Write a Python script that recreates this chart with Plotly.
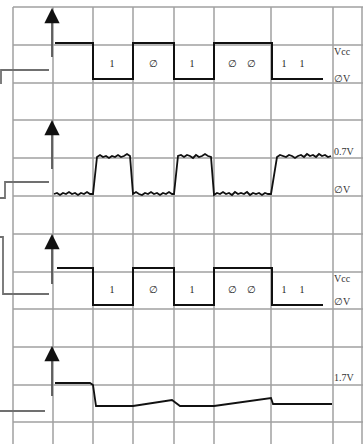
import plotly.graph_objects as go

# ---- grid (drawing units = pixels of the sheet) ----
grid_x = [13, 53, 93, 133, 174, 214, 271, 333, 362]
grid_y = [7, 45, 83, 120, 158, 196, 234, 272, 309, 347, 385, 422]
grid_top, grid_bottom, grid_left, grid_right = 7, 444, 13, 363

# ---- signal 1 & 3 : digital bit stream ----
edges = [93, 133, 174, 214, 272]
bit_start1, bit_end = 55, 323
high1, low1 = 43, 79
bit_start3 = 57
high3, low3 = 268, 305
levels_seq = ["H", "L", "H", "L", "H", "L"]

# bit labels
bit_labels = ["1", "∅", "1", "∅", "∅", "1", "1"]
bit_label_x = [112, 153, 192, 232, 251, 284, 302]
bit_label_y1 = 64
bit_label_y3 = 290

# ---- signal 2 : noisy 0.7 V ----
sig2_x = [54, 57, 60, 63, 66, 69, 72, 75, 78, 81, 84, 87, 90, 93,
          97, 100, 103, 106, 109, 112, 115, 118, 121, 124, 127, 130,
          133, 136, 139, 142, 145, 148, 151, 154, 157, 160, 163, 166, 169, 172, 174,
          178, 181, 184, 187, 190, 193, 196, 199, 202, 205, 208, 211,
          214, 217, 220, 223, 226, 229, 232, 235, 238, 241, 244, 247, 250, 253, 256, 259, 262, 265, 268, 271,
          277, 280, 283, 286, 289, 292, 295, 298, 301, 304, 307, 310, 313, 316, 319, 322, 325, 328, 331]
sig2_y = [194, 193, 195, 193, 194, 192, 194, 193, 195, 193, 194, 192, 194, 194,
          157, 155, 157, 156, 158, 156, 157, 155, 157, 156, 154, 156,
          194, 192, 194, 195, 193, 194, 192, 194, 193, 195, 193, 194, 192, 194, 194,
          156, 155, 157, 155, 156, 158, 155, 157, 156, 154, 156, 157,
          195, 193, 194, 192, 194, 193, 195, 192, 194, 193, 194, 192, 195, 193, 194, 193, 195, 193, 194, 194,
          157, 155, 156, 157, 155, 156, 158, 156, 155, 157, 154, 156, 155, 157, 154, 156, 155, 157, 156]

# ---- signal 4 : 1.7 V analog ----
sig4_x = [55, 90, 93, 96, 133, 172, 180, 214, 271, 273, 332]
sig4_y = [383, 383, 385, 406, 406, 400, 406, 406, 398, 404, 404]

# ---- small input steps on the left ----
steps = [
    ([1, 1, 49], [84, 70, 70]),
    ([0, 5, 5, 49], [198, 198, 182, 182]),
    ([0, 3, 3, 49], [237, 237, 294, 294]),
    ([0, 45], [411, 411]),
]

# ---- axis arrows (tip y, tail y) ----
arrow_x = 52
arrow_tip = [8, 120, 234, 346]
arrow_tail = [57, 169, 284, 396]
head_len = 12

# ---- level labels ----
level_labels = ["Vcc", "∅V", "0.7V", "∅V", "Vcc", "∅V", "1.7V"]
level_label_y = [52, 79, 152, 190, 279, 302, 378]
level_label_x = 334


def step_trace(start, end, high, low):
    xs, ys = [start], [high]
    for i, e in enumerate(edges):
        cur = high if levels_seq[i] == "H" else low
        nxt = high if levels_seq[i + 1] == "H" else low
        xs += [e, e]
        ys += [cur, nxt]
    xs.append(end)
    ys.append(high if levels_seq[-1] == "H" else low)
    return xs, ys


fig = go.Figure()

# grid
gx, gy = [], []
for x in grid_x:
    gx += [x, x, None]
    gy += [grid_top, grid_bottom, None]
for y in grid_y:
    gx += [grid_left, grid_right, None]
    gy += [y, y, None]
fig.add_trace(go.Scatter(x=gx, y=gy, mode="lines",
                         line=dict(color="#a0a0a0", width=1.5), hoverinfo="skip"))

# left steps
for sx, sy in steps:
    fig.add_trace(go.Scatter(x=sx, y=sy, mode="lines",
                             line=dict(color="#707070", width=1.8), hoverinfo="skip"))

# arrow shafts (gray)
ax_, ay_ = [], []
for tip, tail in zip(arrow_tip, arrow_tail):
    ax_ += [arrow_x, arrow_x, None]
    ay_ += [tail, tip + head_len - 2, None]
fig.add_trace(go.Scatter(x=ax_, y=ay_, mode="lines",
                         line=dict(color="#555", width=1.8), hoverinfo="skip"))

# signals
x1, y1 = step_trace(bit_start1, bit_end, high1, low1)
fig.add_trace(go.Scatter(x=x1, y=y1, mode="lines", line=dict(color="#111", width=2)))
x3, y3 = step_trace(bit_start3, bit_end, high3, low3)
fig.add_trace(go.Scatter(x=x3, y=y3, mode="lines", line=dict(color="#111", width=2)))
fig.add_trace(go.Scatter(x=sig2_x, y=sig2_y, mode="lines", line=dict(color="#111", width=1.8)))
fig.add_trace(go.Scatter(x=sig4_x, y=sig4_y, mode="lines", line=dict(color="#111", width=1.8)))

# bit labels
for yy in (bit_label_y1, bit_label_y3):
    fig.add_trace(go.Scatter(
        x=bit_label_x, y=[yy] * len(bit_label_x), mode="text", text=bit_labels,
        textfont=dict(family="Liberation Serif", size=10, color="#222"),
        textposition="middle center", hoverinfo="skip"))

# level labels
fig.add_trace(go.Scatter(
    x=[level_label_x] * len(level_labels), y=level_label_y, mode="text", text=level_labels,
    textfont=dict(family="Liberation Serif", size=10, color="#333"),
    textposition="middle right", hoverinfo="skip"))

# arrow heads (black)
for tip in arrow_tip:
    fig.add_annotation(x=arrow_x, y=tip, ax=arrow_x, ay=tip + head_len, xref="x", yref="y",
                       axref="x", ayref="y", showarrow=True, arrowhead=2,
                       arrowsize=1.7, arrowwidth=1.8, arrowcolor="#111", text="")

fig.update_layout(
    template="none",
    width=363, height=444, margin=dict(l=0, r=0, t=0, b=0),
    paper_bgcolor="white", plot_bgcolor="white", showlegend=False,
    xaxis=dict(range=[0, 363], visible=False, fixedrange=True),
    yaxis=dict(range=[444, 0], visible=False, fixedrange=True),
)
fig.write_html("out.html", config={"displayModeBar": False},
               post_script="document.body.style.margin='0px';document.body.style.overflow='hidden';")
